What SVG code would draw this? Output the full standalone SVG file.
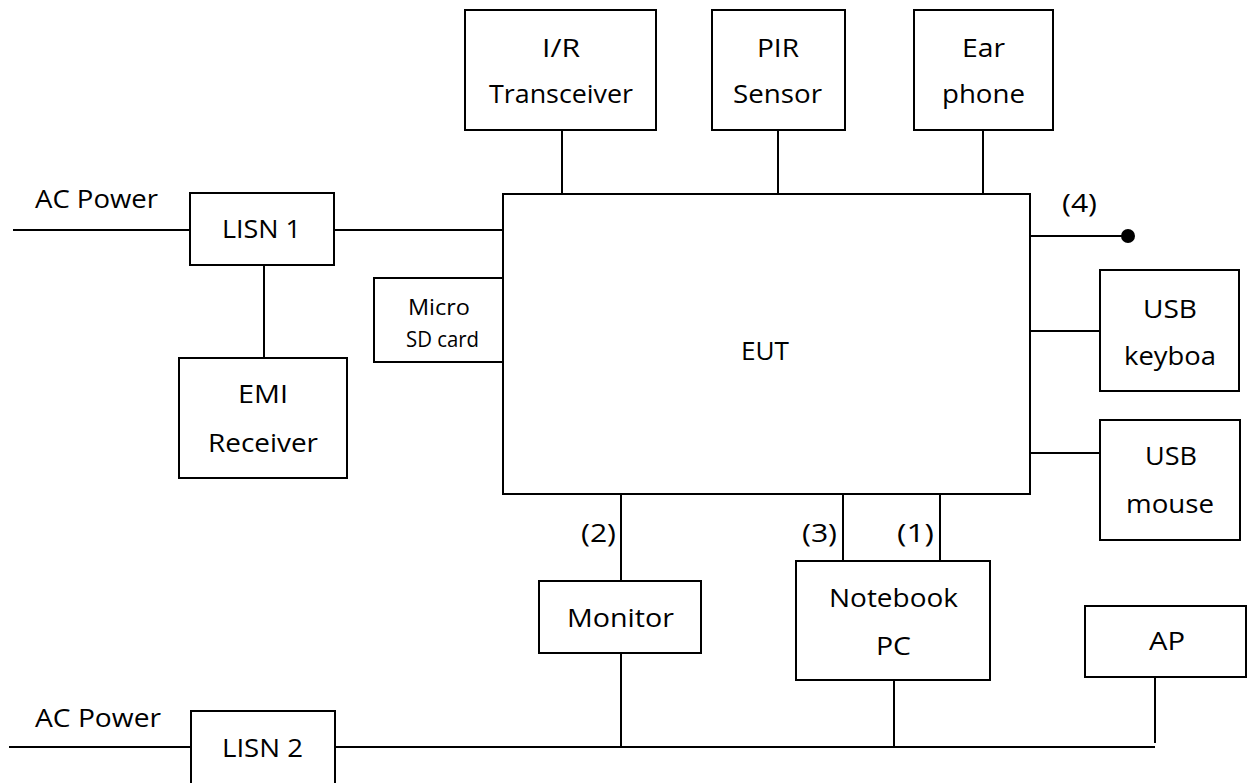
<svg xmlns="http://www.w3.org/2000/svg" width="1248" height="783" viewBox="0 0 1248 783">
<style>
.box{fill:#fff;stroke:#000;stroke-width:2}
.ln{fill:none;stroke:#000;stroke-width:2}
.t{font-family:"Open Sans","Noto Sans","Liberation Sans",sans-serif;font-size:26px;fill:#000}
.s{font-size:22px}
</style>
<rect width="1248" height="783" fill="#fff"/>
<g id="connectors">
<line class="ln" x1="13" y1="230" x2="190" y2="230"/>
<line class="ln" x1="334" y1="230" x2="503" y2="230"/>
<line class="ln" x1="264" y1="265" x2="264" y2="358"/>
<line class="ln" x1="562" y1="130" x2="562" y2="194"/>
<line class="ln" x1="778" y1="130" x2="778" y2="194"/>
<line class="ln" x1="983" y1="130" x2="983" y2="194"/>
<line class="ln" x1="1030" y1="236" x2="1128" y2="236" stroke-width="3"/>
<circle cx="1128" cy="236" r="7" fill="#000"/>
<line class="ln" x1="1030" y1="331" x2="1100" y2="331"/>
<line class="ln" x1="1030" y1="453" x2="1100" y2="453"/>
<line class="ln" x1="621" y1="494" x2="621" y2="581"/>
<line class="ln" x1="621" y1="653" x2="621" y2="747"/>
<line class="ln" x1="843" y1="494" x2="843" y2="561"/>
<line class="ln" x1="940" y1="494" x2="940" y2="561"/>
<line class="ln" x1="894" y1="680" x2="894" y2="747"/>
<line class="ln" x1="1155" y1="677" x2="1155" y2="743"/>
<line class="ln" x1="335" y1="747" x2="1155" y2="747"/>
<line class="ln" x1="9" y1="747" x2="191" y2="747"/>
<text class="t" x="1062" y="212" textLength="35" lengthAdjust="spacingAndGlyphs">(4)</text>
<text class="t" x="581" y="542" textLength="35" lengthAdjust="spacingAndGlyphs">(2)</text>
<text class="t" x="802" y="542" textLength="35" lengthAdjust="spacingAndGlyphs">(3)</text>
<text class="t" x="897" y="542" textLength="37" lengthAdjust="spacingAndGlyphs">(1)</text>
<text class="t" x="35" y="208" textLength="123" lengthAdjust="spacingAndGlyphs">AC Power</text>
<text class="t" x="35" y="727" textLength="126" lengthAdjust="spacingAndGlyphs">AC Power</text>
</g>
<g id="lisn1">
<rect class="box" x="190" y="193" width="144" height="72"/>
<text class="t" x="222" y="238" textLength="79" lengthAdjust="spacingAndGlyphs">LISN 1</text>
</g>
<g id="emi">
<rect class="box" x="179" y="358" width="168" height="120"/>
<text class="t" x="238" y="403" textLength="50" lengthAdjust="spacingAndGlyphs">EMI</text>
<text class="t" x="208" y="452" textLength="110" lengthAdjust="spacingAndGlyphs">Receiver</text>
</g>
<g id="microsd">
<rect class="box" x="374" y="278" width="129" height="84"/>
<text class="t s" x="408" y="315" textLength="62" lengthAdjust="spacingAndGlyphs">Micro</text>
<text class="t s" x="406" y="347" textLength="73" lengthAdjust="spacingAndGlyphs">SD card</text>
</g>
<g id="eut">
<rect class="box" x="503" y="194" width="527" height="300"/>
<text class="t" x="741" y="360" textLength="48" lengthAdjust="spacingAndGlyphs">EUT</text>
</g>
<g id="ir">
<rect class="box" x="465" y="10" width="191" height="120"/>
<text class="t" x="542" y="57" textLength="38" lengthAdjust="spacingAndGlyphs">I/R</text>
<text class="t" x="489" y="103" textLength="144" lengthAdjust="spacingAndGlyphs">Transceiver</text>
</g>
<g id="pir">
<rect class="box" x="712" y="10" width="133" height="120"/>
<text class="t" x="757" y="57" textLength="42" lengthAdjust="spacingAndGlyphs">PIR</text>
<text class="t" x="733" y="103" textLength="89" lengthAdjust="spacingAndGlyphs">Sensor</text>
</g>
<g id="earphone">
<rect class="box" x="914" y="10" width="139" height="120"/>
<text class="t" x="962" y="57" textLength="43" lengthAdjust="spacingAndGlyphs">Ear</text>
<text class="t" x="942" y="103" textLength="83" lengthAdjust="spacingAndGlyphs">phone</text>
</g>
<g id="usbkeyboard">
<rect class="box" x="1100" y="270" width="139" height="121"/>
<text class="t" x="1143" y="318" textLength="54" lengthAdjust="spacingAndGlyphs">USB</text>
<text class="t" x="1124" y="365" textLength="92" lengthAdjust="spacingAndGlyphs">keyboa</text>
</g>
<g id="usbmouse">
<rect class="box" x="1100" y="420" width="140" height="120"/>
<text class="t" x="1145" y="465" textLength="52" lengthAdjust="spacingAndGlyphs">USB</text>
<text class="t" x="1126" y="513" textLength="88" lengthAdjust="spacingAndGlyphs">mouse</text>
</g>
<g id="monitor">
<rect class="box" x="539" y="581" width="162" height="72"/>
<text class="t" x="567" y="627" textLength="107" lengthAdjust="spacingAndGlyphs">Monitor</text>
</g>
<g id="notebook">
<rect class="box" x="796" y="561" width="194" height="119"/>
<text class="t" x="829" y="607" textLength="129" lengthAdjust="spacingAndGlyphs">Notebook</text>
<text class="t" x="876" y="655" textLength="35" lengthAdjust="spacingAndGlyphs">PC</text>
</g>
<g id="ap">
<rect class="box" x="1085" y="606" width="161" height="71"/>
<text class="t" x="1149" y="650" textLength="36" lengthAdjust="spacingAndGlyphs">AP</text>
</g>
<g id="lisn2">
<rect class="box" x="191" y="711" width="144" height="80"/>
<text class="t" x="222" y="757" textLength="81" lengthAdjust="spacingAndGlyphs">LISN 2</text>
</g>
</svg>
